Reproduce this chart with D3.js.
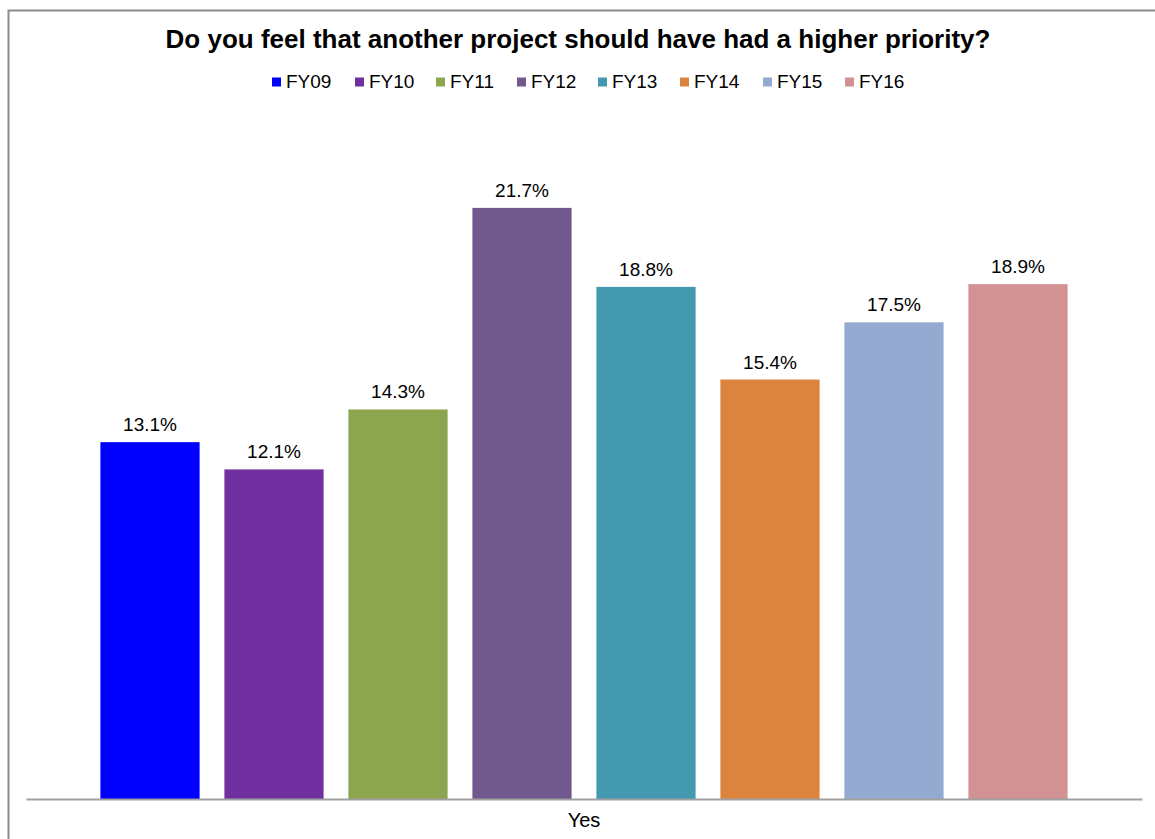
<!DOCTYPE html>
<html lang="en">
  <head>
    <meta charset="utf-8">
    <title>Do you feel that another project should have had a higher priority?</title>
    <style>
      body { margin: 0; background: #fff; }
      text { font-family: "Liberation Sans", Arial, sans-serif; fill: #000; }
    </style>
  </head>
  <body>
    <div class="chart" id="container"></div>

    <script src="https://cdnjs.cloudflare.com/ajax/libs/d3/7.8.5/d3.min.js"></script>
    <script type="text/javascript">
      var categories = ["Yes"];
      var series = ["FY09", "FY10", "FY11", "FY12", "FY13", "FY14", "FY15", "FY16"];
      var values = [13.1, 12.1, 14.3, 21.7, 18.8, 15.4, 17.5, 18.9];
      var colors = ["#0000ff", "#7030a0", "#8ba64e", "#71598e", "#4399b0", "#dc843d", "#95aad1", "#d29192"];

      var width = 1155, height = 839;
      var plot = {left: 26, right: 1142, top: 118, bottom: 799};

      var svg = d3.select(".chart")
        .append("svg")
          .attr("width", width)
          .attr("height", height);

      // outer frame (only top and left edges are visible)
      svg.append("path")
        .attr("d", "M8.5," + height + "V10.5H" + width)
        .attr("fill", "none")
        .attr("stroke", "#8c8c8c")
        .attr("stroke-width", 2);

      svg.append("text")
        .attr("x", 578)
        .attr("y", 48)
        .attr("text-anchor", "middle")
        .style("font-size", "26px")
        .style("font-weight", "bold")
        .text("Do you feel that another project should have had a higher priority?");

      var x0 = d3.scaleBand()
        .domain(categories)
        .range([plot.left, plot.right]);

      var x1 = d3.scaleBand()
        .domain(series)
        .range([0, x0.bandwidth()])
        .paddingInner(0.2)
        .paddingOuter(0.6);

      var y = d3.scaleLinear()
        .domain([0, 25])
        .range([plot.bottom, plot.top]);

      var color = d3.scaleOrdinal().domain(series).range(colors);

      var data = series.map(function(s, i) { return {series: s, value: values[i]}; });

      var g = svg.append("g")
        .attr("transform", "translate(" + x0(categories[0]) + ",0)");

      g.selectAll(".bar")
        .data(data)
        .enter().append("rect")
          .attr("class", "bar")
          .attr("x", function(d) { return x1(d.series); })
          .attr("y", function(d) { return y(d.value); })
          .attr("width", x1.bandwidth())
          .attr("height", function(d) { return y(0) - y(d.value); })
          .style("fill", function(d) { return color(d.series); });

      g.selectAll(".label")
        .data(data)
        .enter().append("text")
          .attr("class", "label")
          .attr("x", function(d) { return x1(d.series) + x1.bandwidth() / 2; })
          .attr("y", function(d) { return y(d.value) - 11; })
          .attr("text-anchor", "middle")
          .style("font-size", "19px")
          .text(function(d) { return d.value.toFixed(1) + "%"; });

      // category axis
      var xAxis = svg.append("g")
        .attr("transform", "translate(0," + plot.bottom + ")")
        .call(d3.axisBottom(x0).tickSize(0).tickPadding(14));
      xAxis.select(".domain").attr("stroke", "#a0a0a0").attr("stroke-width", 2);
      xAxis.selectAll("text")
        .style("font-size", "20px")
        .style("font-family", "\"Liberation Sans\", Arial, sans-serif")
        .attr("fill", "#000");

      // legend
      var legendX = [272, 355, 436, 517, 598, 680, 763, 845];
      var legend = svg.append("g").selectAll(".legend")
        .data(series)
        .enter().append("g")
          .attr("class", "legend")
          .attr("transform", function(d, i) { return "translate(" + legendX[i] + ",0)"; });

      legend.append("rect")
        .attr("x", 0)
        .attr("y", 77.5)
        .attr("width", 9)
        .attr("height", 9)
        .style("fill", function(d) { return color(d); });

      legend.append("text")
        .attr("x", 14)
        .attr("y", 88)
        .style("font-size", "19px")
        .text(function(d) { return d; });
    </script>
  </body>
</html>
